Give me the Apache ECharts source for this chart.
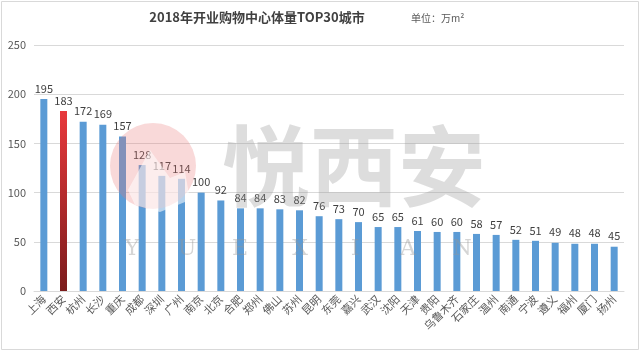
<!DOCTYPE html>
<html><head><meta charset="utf-8">
<script src="https://cdn.jsdelivr.net/npm/echarts@6/dist/echarts.min.js"></script>
<style>html,body{margin:0;padding:0;background:#fff}#c{width:640px;height:352px}</style>
</head><body><div id="c"></div>
<script>
var cities = ['上海','西安','杭州','长沙','重庆','成都','深圳','广州','南京','北京','合肥','郑州','佛山','苏州','昆明','东莞','嘉兴','武汉','沈阳','天津','贵阳','乌鲁木齐','石家庄','温州','南通','宁波','遵义','福州','厦门','扬州'];
var values = [195,183,172,169,157,128,117,114,100,92,84,84,83,82,76,73,70,65,65,61,60,60,58,57,52,51,49,48,48,45];
var yTicks = [0,50,100,150,200,250];
var highlight = '西安';

var chart = echarts.init(document.getElementById('c'));
var font = '"Microsoft YaHei","Noto Sans CJK SC",sans-serif';
var data = values.map(function(v,i){
  if (cities[i] === highlight) {
    return {value:v, itemStyle:{color:new echarts.graphic.LinearGradient(0,0,0,1,[{offset:0,color:'#E8393C'},{offset:1,color:'#7B1C1C'}])}};
  }
  return v;
});
var letters = ['Y','U','E','X','I','A','N'];
var letterX = [132,187,240,300,355,408,462];
var graphics = [
  {type:'rect', shape:{x:1.5,y:1.5,width:637,height:348}, style:{fill:'none',stroke:'#D9D9D9',lineWidth:1}, z:-1},
  {type:'text', style:{text:'2018年开业购物中心体量TOP30城市', x:257, y:11, textAlign:'center', font:'bold 13px '+font, fill:'#404040'}},
  {type:'text', style:{text:'单位：万m²', x:411, y:13, font:'10px '+font, fill:'#595959'}},
  {type:'circle', shape:{cx:153, cy:166, r:43}, style:{fill:'rgba(232,120,120,0.28)'}, z:50},
  {type:'polygon', shape:{points:[[128,190],[150,150],[170,178],[185,172],[190,200],[160,212],[135,205]]}, style:{fill:'rgba(255,255,255,0.55)'}, z:51},
  {type:'text', style:{text:'悦西安', x:222, y:122, font:'bold 88px "Noto Sans CJK SC",sans-serif', fill:'rgba(150,150,150,0.32)'}, z:50}
];
letters.forEach(function(l,i){
  graphics.push({type:'text', style:{text:l, x:letterX[i], y:249, textAlign:'center', textVerticalAlign:'middle', font:'22px "DejaVu Serif",serif', fill:'rgba(150,150,150,0.4)'}, z:50});
});

chart.setOption({
  animation:false,
  grid:{left:34, right:16, top:45, bottom:61},
  xAxis:{type:'category', data:cities,
    axisLine:{lineStyle:{color:'#D9D9D9'}}, axisTick:{show:false},
    axisLabel:{rotate:45, interval:0, color:'#595959', fontSize:11, fontFamily:font, margin:6}},
  yAxis:{type:'value', min:yTicks[0], max:yTicks[yTicks.length-1], interval:50,
    axisLine:{show:false}, axisTick:{show:false},
    axisLabel:{color:'#595959', fontSize:11, fontFamily:font, margin:8}},
  series:[{type:'bar', data:data, barWidth:7, itemStyle:{color:'#5B9BD5'},
    label:{show:true, position:'top', distance:5, color:'#404040', fontSize:11, fontFamily:font}}],
  graphic:graphics
});
chart.setOption({yAxis:{splitLine:{lineStyle:{color:'#D9D9D9'}}}});
</script></body></html>
